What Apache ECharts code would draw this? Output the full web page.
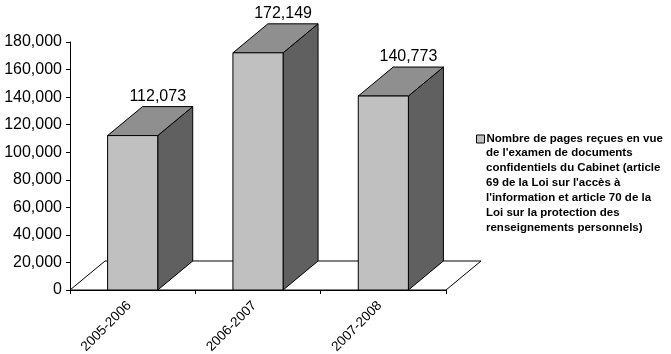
<!DOCTYPE html>
<html>
<head>
<meta charset="utf-8">
<style>
  html, body { margin: 0; padding: 0; background: #fff; }
  #chart { width: 671px; height: 354px; }
</style>
<script src="https://cdn.jsdelivr.net/npm/echarts@6/dist/echarts.min.js"></script>
</head>
<body>
<div id="chart"></div>
<script>
const CATEGORIES = ['2005-2006', '2006-2007', '2007-2008'];
const PAGES = [112073, 172149, 140773];
const LEGEND_LINES = [
  'Nombre de pages reçues en vue',
  "de l'examen de documents",
  'confidentiels du Cabinet (article',
  "69 de la Loi sur l'accès à",
  "l'information et article 70 de la",
  'Loi sur la protection des',
  'renseignements personnels)'
];
const SERIES_NAME = LEGEND_LINES.join(' ');

const FONT = '"Liberation Sans", Arial, sans-serif';
const DEPTH_X = 35;
const DEPTH_Y = 29;
const FRONT = '#c0c0c0';
const TOP = '#8f8f8f';
const SIDE = '#606060';

function poly(points, fill) {
  return {
    type: 'polygon',
    shape: { points: points },
    style: { fill: fill, stroke: '#000', lineWidth: 1 }
  };
}

// floor of the 3D box, runs under all the bars
function renderFloor(params, api) {
  const band = api.size([1, 0])[0];
  const base = api.coord([0, 0]);
  const x0 = base[0] - band / 2;
  const x1 = x0 + band * CATEGORIES.length;
  const y = base[1];
  return poly([
    [x0, y], [x0 + DEPTH_X, y - DEPTH_Y],
    [x1 + DEPTH_X, y - DEPTH_Y], [x1, y]
  ], '#fff');
}

function renderBar(params, api) {
  const idx = api.value(0);
  const top = api.coord([idx, api.value(1)]);
  const base = api.coord([idx, 0]);
  const w = api.size([1, 0])[0] * 0.4;
  const l = top[0] - w / 2;
  const r = l + w;
  return {
    type: 'group',
    children: [
      poly([[r, top[1]], [r + DEPTH_X, top[1] - DEPTH_Y], [r + DEPTH_X, base[1] - DEPTH_Y], [r, base[1]]], SIDE),
      poly([[l, top[1]], [l + DEPTH_X, top[1] - DEPTH_Y], [r + DEPTH_X, top[1] - DEPTH_Y], [r, top[1]]], TOP),
      poly([[l, top[1]], [r, top[1]], [r, base[1]], [l, base[1]]], FRONT),
      {
        type: 'text',
        style: {
          x: r,
          y: top[1] - DEPTH_Y - 10,
          text: api.value(1).toLocaleString('en-US'),
          fill: '#000',
          font: '16px ' + FONT,
          align: 'center',
          verticalAlign: 'middle'
        }
      }
    ]
  };
}

const chart = echarts.init(document.getElementById('chart'), null, { renderer: 'canvas' });

chart.setOption({
  animation: false,
  backgroundColor: '#fff',
  grid: { left: 70, top: 42, right: 225, bottom: 64, containLabel: false, outerBoundsMode: 'none' },
  xAxis: {
    type: 'category',
    data: CATEGORIES,
    axisLine: { lineStyle: { color: '#000', width: 1 } },
    axisTick: { show: true, length: 4, lineStyle: { color: '#000' } },
    axisLabel: {
      interval: 0,
      rotate: 45,
      margin: 10,
      color: '#000',
      fontFamily: FONT,
      fontSize: 13.5,
      padding: [0, 5, 0, 0]
    }
  },
  yAxis: {
    type: 'value',
    min: 0,
    max: 180000,
    interval: 20000,
    splitLine: { show: false },
    axisLine: { show: true, lineStyle: { color: '#000', width: 1 } },
    axisTick: { show: true, length: 4, lineStyle: { color: '#000' } },
    axisLabel: {
      margin: 8,
      color: '#000',
      fontFamily: FONT,
      fontSize: 16,
      formatter: function (v) { return v.toLocaleString('en-US'); }
    }
  },
  legend: {
    left: 476,
    top: 133,
    padding: 0,
    itemWidth: 8,
    itemHeight: 8,
    itemGap: 0,
    selectedMode: false,
    data: [{
      name: SERIES_NAME,
      icon: 'rect',
      itemStyle: { color: FRONT, borderColor: '#000', borderWidth: 1 }
    }],
    formatter: function () { return LEGEND_LINES[0]; },
    textStyle: {
      color: '#000',
      fontFamily: FONT,
      fontWeight: 'bold',
      fontSize: 11.5,
      padding: [0, 0, 0, -3]
    }
  },
  graphic: [{
    type: 'text',
    left: 486,
    top: 145,
    silent: true,
    style: {
      text: LEGEND_LINES.slice(1).join('\n'),
      fill: '#000',
      font: 'bold 11.5px ' + FONT,
      lineHeight: 15
    }
  }],
  series: [
    {
      name: 'floor',
      type: 'custom',
      renderItem: renderFloor,
      silent: true,
      z: 1,
      encode: { x: 0, y: 1 },
      data: [[0, 0]]
    },
    {
      name: SERIES_NAME,
      type: 'custom',
      renderItem: renderBar,
      z: 2,
      encode: { x: 0, y: 1 },
      data: PAGES.map(function (v, i) { return [i, v]; })
    }
  ]
});
</script>
</body>
</html>
